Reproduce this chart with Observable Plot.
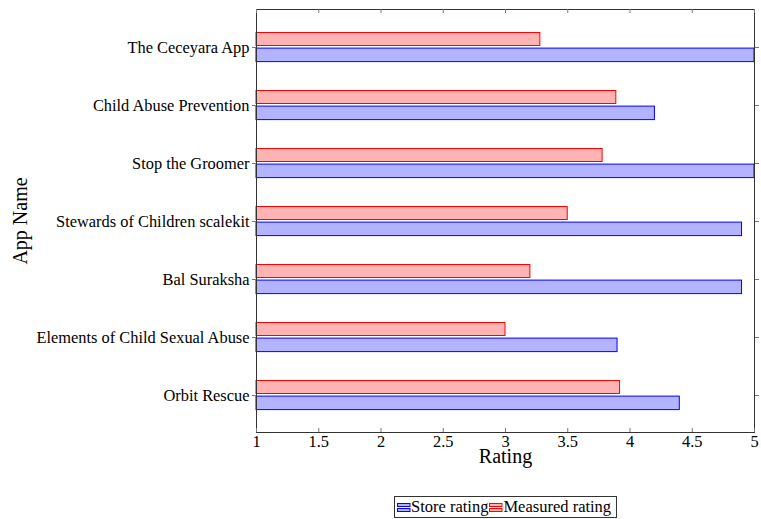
<!DOCTYPE html>
<html>
<head>
<meta charset="utf-8">
<script src="https://cdn.jsdelivr.net/npm/d3@7"></script>
<script src="https://cdn.jsdelivr.net/npm/@observablehq/plot@0.6"></script>
<style>
  html, body { margin: 0; padding: 0; background: #fff; font-family: "Liberation Serif", serif; }
  #wrap { width: 761px; height: 519px; overflow: hidden; }
  #wrap > svg { display: block; }
  #legend { margin-left: 394px; margin-top: 16px; height: 22px; width: 223px; border: 1px solid #333;
            display: inline-flex; align-items: center; font-size: 16.5px; padding: 0 0 0 1px; box-sizing: border-box; white-space: nowrap; }
  #legend svg { flex: none; }
</style>
</head>
<body>
<div id="wrap"></div>
<script>
const apps = ["The Ceceyara App", "Child Abuse Prevention", "Stop the Groomer", "Stewards of Children scalekit", "Bal Suraksha", "Elements of Child Sexual Abuse", "Orbit Rescue"];
const storeRating = [5, 4.2, 5, 4.9, 4.9, 3.9, 4.4];
const measuredRating = [3.28, 3.89, 3.78, 3.5, 3.2, 3.0, 3.92];
const xTicks = [1, 1.5, 2, 2.5, 3, 3.5, 4, 4.5, 5];
const seriesNames = ["Store rating", "Measured rating"];
const seriesFill = ["#b3b3ff", "#ffb3b3"];
const seriesStroke = ["#0000ff", "#ff0000"];

const store = apps.map((a, i) => ({app: a, value: storeRating[i]}));
const measured = apps.map((a, i) => ({app: a, value: measuredRating[i]}));
const serif = "Liberation Serif";

const chart = Plot.plot({
  width: 761,
  height: 480,
  marginLeft: 256,
  marginRight: 7,
  marginTop: 9,
  marginBottom: 48,
  style: {fontFamily: serif, fontSize: "16.4px", background: "white", color: "black", overflow: "visible"},
  x: {domain: [1, 5], ticks: xTicks},
  y: {domain: apps, paddingInner: 0, paddingOuter: 0.095},
  marks: [
    Plot.barX(measured, {y: "app", x1: 1, x2: "value", fill: seriesFill[1], stroke: seriesStroke[1], strokeWidth: 1, insetTop: 14.5, insetBottom: 30.5}),
    Plot.barX(store, {y: "app", x1: 1, x2: "value", fill: seriesFill[0], stroke: seriesStroke[0], strokeWidth: 1, insetTop: 30.1, insetBottom: 14.4}),
    Plot.frame({stroke: "#333", strokeWidth: 1}),
    Plot.ruleX(xTicks, {x: d => d, insetTop: 419, stroke: "#777"}),
    Plot.ruleX(xTicks, {x: d => d, insetBottom: 419, stroke: "#777"}),
    Plot.axisX({anchor: "bottom", ticks: xTicks, tickSize: 0, tickPadding: 3, label: null, fontSize: 16.4, fontFamily: serif, tickFormat: d => String(d)}),
    Plot.axisY({anchor: "left", tickSize: 4, tickPadding: 3, label: null, stroke: "#777", fontSize: 16.4, fontFamily: serif}),
    Plot.axisY({anchor: "right", tickSize: 4, tickFormat: null, label: null, stroke: "#777"}),
    Plot.text(["Rating"], {frameAnchor: "bottom", dy: 30, fontSize: 20, fontFamily: serif}),
    Plot.text(["App Name"], {frameAnchor: "left", textAnchor: "middle", dx: -236, rotate: -90, fontSize: 20, fontFamily: serif})
  ]
});
document.getElementById("wrap").appendChild(chart);

const box = document.createElement("div");
box.id = "legend";
seriesNames.forEach((name, i) => {
  const ns = "http://www.w3.org/2000/svg";
  const s = document.createElementNS(ns, "svg");
  s.setAttribute("width", 15);
  s.setAttribute("height", 14);
  [[1.5, 3.5, 12.5], [1.5, 8.5, 12.5]].forEach(([x, y, w]) => {
    const r = document.createElementNS(ns, "rect");
    r.setAttribute("x", x); r.setAttribute("y", y); r.setAttribute("width", w); r.setAttribute("height", 3);
    r.setAttribute("fill", seriesFill[i]); r.setAttribute("stroke", seriesStroke[i]); r.setAttribute("stroke-width", 1);
    s.appendChild(r);
  });
  box.appendChild(s);
  const t = document.createElement("span");
  t.textContent = name;
  box.appendChild(t);
});
document.getElementById("wrap").appendChild(box);
</script>
</body>
</html>
